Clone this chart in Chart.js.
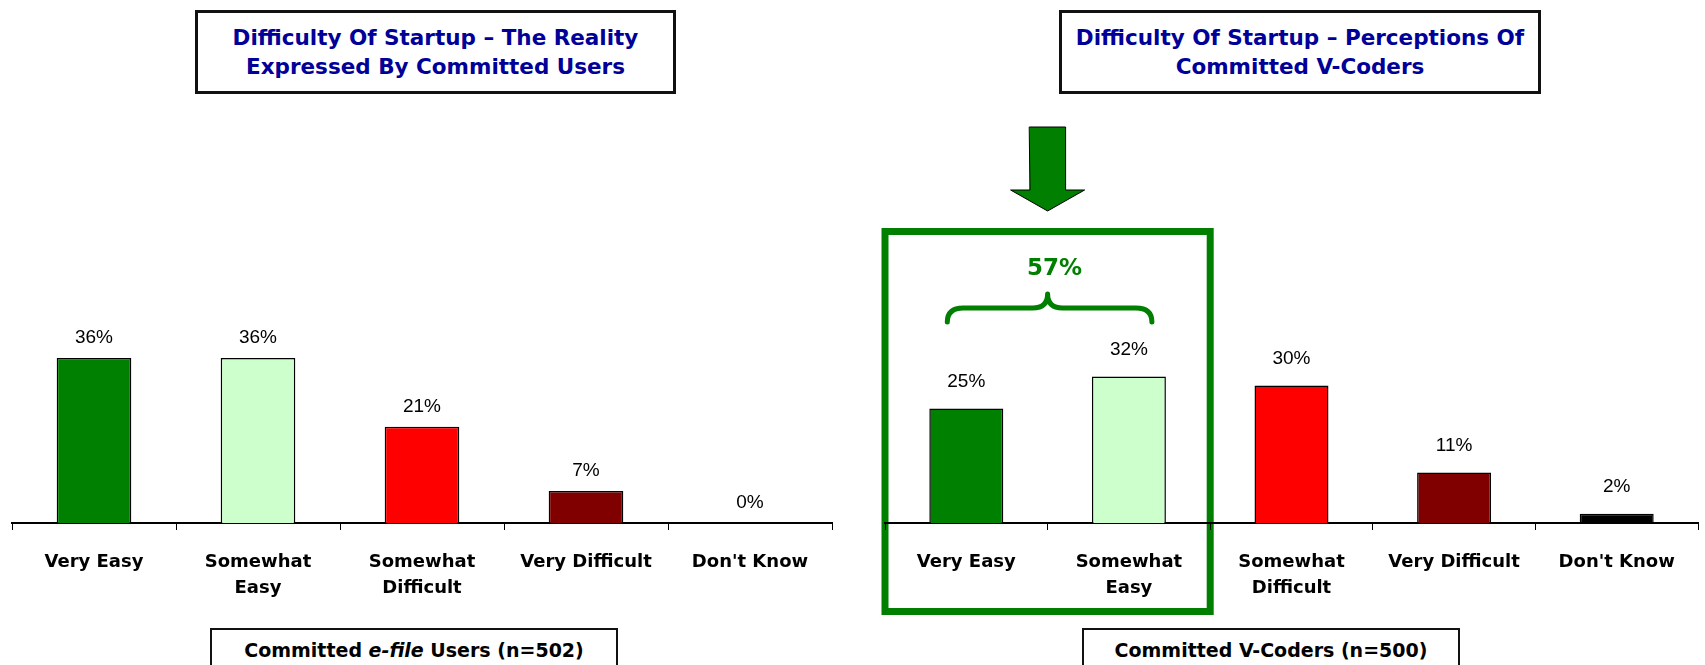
<!DOCTYPE html>
<html>
<head>
<meta charset="utf-8">
<script src="https://cdn.jsdelivr.net/npm/chart.js@4.4.0/dist/chart.umd.min.js"></script>
<style>
  html, body { margin: 0; padding: 0; background: #fff; }
  body { width: 1705px; height: 665px; position: relative; overflow: hidden; font-family: 'DejaVu Sans', Verdana, sans-serif; }
  canvas { position: absolute; top: 0; }
  .title {
    position: absolute; top: 10px; height: 84px; box-sizing: border-box;
    border: 3px solid #111; background: #fff;
    display: flex; align-items: center; justify-content: center; text-align: center;
    color: #000099; font-weight: bold; font-size: 21.5px; line-height: 29px;
  }
  .caption {
    position: absolute; top: 628px; height: 44px; box-sizing: border-box;
    border: 2px solid #111; background: #fff;
    display: flex; align-items: center; justify-content: center;
    font-weight: bold; font-size: 19px; color: #000;
  }
</style>
</head>
<body>
<div class="title" style="left:195px;width:481px">Difficulty Of Startup – The Reality<br>Expressed By Committed Users</div>
<div class="title" style="left:1059px;width:482px">Difficulty Of Startup – Perceptions Of<br>Committed V-Coders</div>

<canvas id="usersChart" width="850" height="665" style="left:0"></canvas>
<canvas id="codersChart" width="845" height="665" style="left:860px"></canvas>

<div class="caption" style="left:210px;width:408px">Committed&nbsp;<i>e-file</i>&nbsp;Users (n=502)</div>
<div class="caption" style="left:1082px;width:378px">Committed V-Coders (n=500)</div>

<script>
// categories shared by both charts
const categories = [['Very Easy'], ['Somewhat', 'Easy'], ['Somewhat', 'Difficult'], ['Very Difficult'], ["Don't Know"]]
// percentages, committed e-file users (n=502)
const usersValues = [36, 36, 21, 7, 0]
// percentages, committed V-Coders (n=500)
const codersValues = [25, 32, 30, 11, 2]

const barColors = ['#008000', '#CCFFCC', '#FF0000', '#800000', '#000000']
const green = '#007F00'
const AXIS_Y = 523

// percent labels over each bar
const valueLabels = {
    id: 'valueLabels',
    afterDatasetsDraw(chart, args, opts) {
        const ctx = chart.ctx
        const meta = chart.getDatasetMeta(0)
        const values = chart.data.datasets[0].data
        ctx.save()
        ctx.font = '19px "Liberation Sans", Arial, sans-serif'
        ctx.fillStyle = '#000'
        ctx.textAlign = 'center'
        ctx.textBaseline = 'middle'
        meta.data.forEach((bar, i) => {
            ctx.fillText(values[i] + '%', bar.x, bar.y - opts.offset)
        })
        ctx.restore()
    }
}

// green box, brace and arrow round the first two categories
const easyHighlight = {
    id: 'easyHighlight',
    bounds(chart) {
        const x = chart.scales.x
        const w = x.width / categories.length
        return { left: x.left, right: x.left + 2 * w, c0: x.getPixelForValue(0), c1: x.getPixelForValue(1) }
    },
    beforeDraw(chart) {
        const b = this.bounds(chart)
        const ctx = chart.ctx
        ctx.save()
        ctx.strokeStyle = green
        ctx.lineWidth = 7
        ctx.strokeRect(b.left, 231.5, b.right - b.left, 380)
        ctx.restore()
    },
    afterDraw(chart) {
        const b = this.bounds(chart)
        const ctx = chart.ctx
        const mid = (b.c0 + b.c1) / 2
        const l = b.c0 - 19
        const r = b.c1 + 23

        ctx.save()
        // brace
        ctx.strokeStyle = green
        ctx.lineWidth = 5
        ctx.lineCap = 'round'
        ctx.lineJoin = 'round'
        ctx.beginPath()
        ctx.moveTo(l, 322)
        ctx.quadraticCurveTo(l, 308, l + 16, 308)
        ctx.lineTo(mid - 15, 308)
        ctx.quadraticCurveTo(mid, 308, mid, 294)
        ctx.quadraticCurveTo(mid, 308, mid + 15, 308)
        ctx.lineTo(r - 16, 308)
        ctx.quadraticCurveTo(r, 308, r, 322)
        ctx.stroke()

        // total of the two easy answers
        ctx.fillStyle = green
        ctx.font = 'bold 23px "DejaVu Sans", Verdana, sans-serif'
        ctx.textAlign = 'center'
        ctx.textBaseline = 'middle'
        const total = codersValues[0] + codersValues[1]
        ctx.fillText(total + '%', mid + 7, 269)

        // arrow
        const ax = (b.left + b.right) / 2
        ctx.beginPath()
        ctx.moveTo(ax - 18, 127)
        ctx.lineTo(ax + 18, 127)
        ctx.lineTo(ax + 18, 190)
        ctx.lineTo(ax + 37, 190)
        ctx.lineTo(ax, 211)
        ctx.lineTo(ax - 37, 190)
        ctx.lineTo(ax - 18, 190)
        ctx.closePath()
        ctx.fillStyle = green
        ctx.fill()
        ctx.strokeStyle = '#000'
        ctx.lineWidth = 1
        ctx.stroke()
        ctx.restore()
    }
}

function makeChart(id, values, labelOffset, padLeft, padRight, extra) {
    const ctx = document.getElementById(id).getContext('2d')
    // eslint-disable-next-line no-undef
    return new Chart(ctx, {
        type: 'bar',
        data: {
            labels: categories,
            datasets: [{
                data: values,
                backgroundColor: barColors,
                borderColor: '#000',
                borderWidth: 1.5,
                barPercentage: 0.455,
                categoryPercentage: 1
            }]
        },
        options: {
            responsive: false,
            animation: false,
            events: [],
            layout: { padding: { top: 65, left: padLeft, right: padRight, bottom: 0 } },
            scales: {
                x: {
                    afterFit: (scale) => { scale.height = scale.chart.height - AXIS_Y },
                    border: { display: true, color: '#000', width: 2 },
                    grid: {
                        drawOnChartArea: false,
                        drawTicks: true,
                        tickLength: 7,
                        color: '#000',
                        lineWidth: 1
                    },
                    ticks: {
                        autoSkip: false,
                        maxRotation: 0,
                        padding: 19,
                        color: '#000',
                        font: { family: '"DejaVu Sans", Verdana, sans-serif', size: 18, weight: 'bold', lineHeight: 1.444 }
                    }
                },
                y: {
                    display: false,
                    min: 0,
                    max: 100
                }
            },
            plugins: {
                legend: { display: false },
                tooltip: { enabled: false },
                valueLabels: { offset: labelOffset }
            }
        },
        plugins: [valueLabels].concat(extra)
    })
}

makeChart('usersChart', usersValues, 20, 12, 18, [])
makeChart('codersChart', codersValues, 27, 25, 7, [easyHighlight])
</script>
</body>
</html>
